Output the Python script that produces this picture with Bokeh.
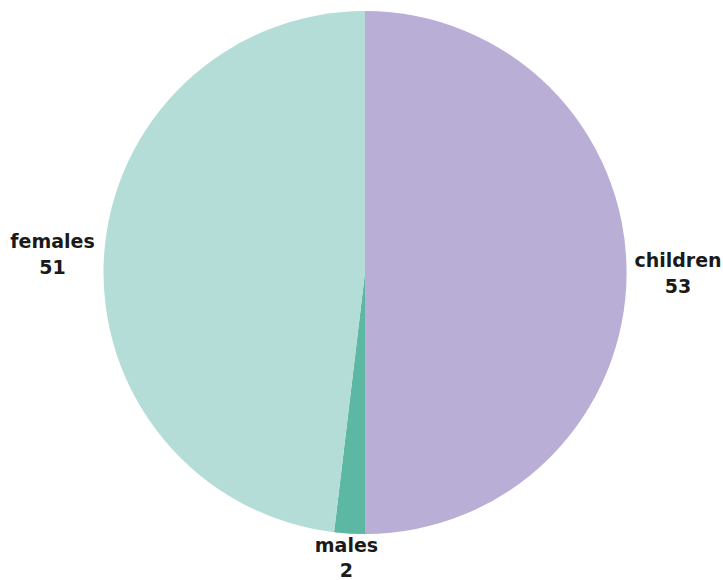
import numpy as np
from bokeh.plotting import figure
from bokeh.models import Range1d, ColumnDataSource
from bokeh.core.properties import value
from bokeh.embed import file_html
from bokeh.resources import INLINE

categories = ["children", "males", "females"]
counts = [53, 2, 51]
colors = ["#b9aed5", "#5cb8a2", "#b3ddd6"]

W, H = 723, 580
p = figure(width=W, height=H, output_backend="svg", toolbar_location=None,
           x_range=Range1d(0, W), y_range=Range1d(0, H), min_border=0)
p.axis.visible = False
p.grid.visible = False
p.outline_line_color = None
p.background_fill_color = "white"
p.border_fill_color = "white"

cx, cy, r = 364.5, 308.0, 261.5
vals = np.array(counts, dtype=float)
frac = vals / vals.sum()
# clockwise from top
ends = np.pi / 2 - 2 * np.pi * np.concatenate([[0], np.cumsum(frac)[:-1]])
starts = ends - 2 * np.pi * frac
mids = (starts + ends) / 2

src = ColumnDataSource(dict(start=starts, end=ends, color=colors))
p.wedge(x=cx, y=cy, radius=r, start_angle="start", end_angle="end",
        fill_color="color", line_color=None, source=src)

lr = r * 1.197
lx = cx + lr * np.cos(mids)
ly = np.clip(cy + lr * np.sin(mids), 23.5, H - 20)

p.text(x=lx, y=ly + 12.5, text=categories, text_font=value("DejaVu Sans"),
       text_font_style="bold", text_font_size="19px", text_color="#1a1a1a",
       text_align="center", text_baseline="middle")
p.text(x=lx, y=ly - 13, text=[str(c) for c in counts], text_font=value("DejaVu Sans"),
       text_font_style="bold", text_font_size="19px", text_color="#1a1a1a",
       text_align="center", text_baseline="middle")

open("out.html", "w").write(file_html(p, INLINE))
